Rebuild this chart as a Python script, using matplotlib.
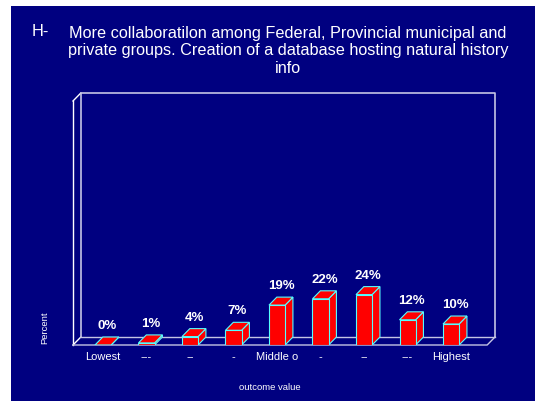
"""3D-look bar chart of outcome values on a navy slide panel."""

import matplotlib
matplotlib.use("Agg")
import matplotlib.pyplot as plt
from matplotlib.patches import Polygon, Rectangle

categories = ["Lowest", "---", "--", "-", "Middle o", "-", "--", "---", "Highest"]
percents = [0, 1, 4, 7, 19, 22, 24, 12, 10]

title = ("More collaboratilon among Federal, Provincial municipal and\n"
         "private groups. Creation of a database hosting natural history\n"
         "info")

W, H = 535, 401
NAVY = "#000080"
EDGE = "#55ffff"
WALL = "#c4c4e4"

plt.rcParams["font.family"] = ["Liberation Sans", "DejaVu Sans"]

fig = plt.figure(figsize=(W / 100, H / 100), dpi=100, facecolor="white")
fig.patches.append(Rectangle((11 / W, 0), 1, 1 - 6 / H, transform=fig.transFigure,
                             facecolor=NAVY, edgecolor="none", zorder=-10))

# axes in pixel box: x 73..495, y 93..345 (image coords)
ax = fig.add_axes([73 / W, 1 - 345 / H, (495 - 73) / W, (345 - 93) / H])
ax.set_facecolor("none")
x0, x1 = -0.69, 9.01
y1 = 120
ax.set_xlim(x0, x1)
ax.set_ylim(0, y1)
for s in ax.spines.values():
    s.set_visible(False)

dx, dy = 0.18, 3.8   # depth offset in data units
bw = 0.37

# walls and floor
ax.plot([x0, x0], [0, y1 - dy], color="white", lw=1, clip_on=False)
ax.plot([x0, x0 + dx], [y1 - dy, y1], color="white", lw=1, clip_on=False)
ax.plot([x0, x0 + dx], [0, dy], color="white", lw=1, clip_on=False)
ax.plot([x0 + dx, x0 + dx, x1, x1], [dy, y1, y1, dy], color=WALL, lw=1.2, clip_on=False)
ax.plot([x0 + dx, x1], [dy, dy], color=WALL, lw=1, clip_on=False)
ax.plot([x0, x1 - dx, x1], [0, 0, dy], color=WALL, lw=1, clip_on=False)

xs = list(range(len(categories)))
for x, v in zip(xs, percents):
    l, r = x - bw / 2, x + bw / 2
    side = Polygon([(r, 0), (r + dx, dy), (r + dx, v + dy), (r, v)],
                   facecolor="red", edgecolor=EDGE, lw=0.8, zorder=3)
    top = Polygon([(l, v), (r, v), (r + dx, v + dy), (l + dx, v + dy)],
                  facecolor="red", edgecolor=EDGE, lw=0.8, zorder=3)
    ax.add_patch(side)
    ax.add_patch(top)
    ax.text(x + dx / 2, v + dy + 2.3, f"{v}%", ha="center", va="bottom",
            color="white", fontsize=9.5, fontweight="bold")
ax.bar(xs, percents, width=bw, color="red", edgecolor=EDGE, lw=0.8, zorder=4)

ax.set_xticks(xs, categories)
ax.tick_params(axis="x", length=0, pad=5, colors="white", labelsize=8)
ax.set_yticks([])

fig.text(45 / W, 1 - 328 / H, "Percent", rotation=90, ha="center", va="center",
         color="white", fontsize=6.8)
fig.text(270 / W, 1 - 388 / H, "outcome value", ha="center", va="center",
         color="white", fontsize=6.8)
fig.text(32 / W, 1 - 32 / H, "H-", ha="left", va="center", color="white", fontsize=11.7)
fig.text(288 / W, 1 - 51 / H, title, ha="center", va="center", multialignment="center",
         color="white", fontsize=11.7, linespacing=1.2)

fig.savefig("out.png", dpi=100, facecolor="white")
